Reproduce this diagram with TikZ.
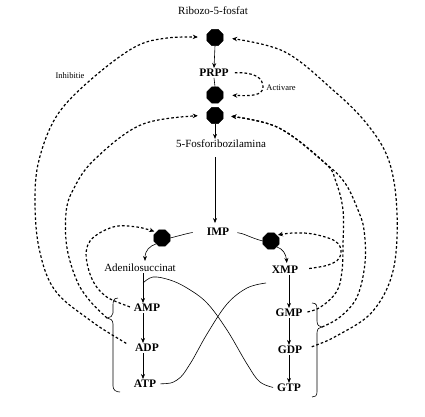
\documentclass[tikz,border=0pt]{standalone}
\usepackage{fontspec}
\setmainfont{Liberation Serif}
\usetikzlibrary{arrows.meta,shapes.geometric}
\begin{document}
\begin{tikzpicture}[x=1pt,y=-1pt,
 octa/.style={regular polygon,regular polygon sides=8,fill=black,draw=black,minimum size=17.5pt,inner sep=0pt},
 lbl/.style={font=\fontsize{11}{12}\selectfont, inner sep=1pt},
 met/.style={font=\fontsize{11.5}{12}\selectfont\bfseries, inner sep=1pt},
 small/.style={font=\fontsize{8.5}{10}\selectfont, inner sep=1pt},
 arr/.style={-{Stealth[length=5pt,width=4pt]}, line width=0.6pt},
 ln/.style={line width=0.6pt},
 dsh/.style={line width=1.2pt, dash pattern=on 2.6pt off 2.2pt, -{Stealth[length=5pt,width=4.5pt]}},
]
\useasboundingbox[fill=white] (0,0) rectangle (425,416);

% nodes
\node[lbl] (rib) at (213,11) {Ribozo-5-fosfat};
\node[octa] (o1) at (215,37.5) {};
\node[met] (prpp) at (214,73) {PRPP};
\node[octa] (o2) at (215,95) {};
\node[octa] (o3) at (215,115.5) {};
\node[lbl] (fra) at (221,144) {5-Fosforibozilamina};
\node[met] (imp) at (218,232) {IMP};
\node[octa] (oa) at (162,238) {};
\node[octa] (og) at (271,241) {};
\node[lbl] (ads) at (140,268) {Adenilosuccinat};
\node[met] (xmp) at (285,270) {XMP};
\node[met] (amp) at (147,308) {AMP};
\node[met] (adp) at (147,348) {ADP};
\node[met] (atp) at (145,384) {ATP};
\node[met] (gmp) at (289,313) {GMP};
\node[met] (gdp) at (290,350) {GDP};
\node[met] (gtp) at (289,388) {GTP};
\node[small] (inh) at (70,76) {Inhibitie};
\node[small] (act) at (281,88) {Activare};

% brace tips and free ends
\coordinate (lbt) at (107,318);
\coordinate (rbt) at (322,327);
\coordinate (cA) at (143,283);
\coordinate (cX) at (266,283);

% braces
\draw[ln] (118,298) .. controls (113,298) and (113,302) .. (113,306) -- (113,313)
  .. controls (113,316) and (110,318) .. (lbt)
  .. controls (110,318) and (113,320) .. (113,324) -- (113,386)
  .. controls (113,390) and (116,392) .. (120,392);
\draw[ln] (312,303) .. controls (317,303) and (317,306) .. (317,310) -- (317,321)
  .. controls (317,325) and (319,327) .. (rbt)
  .. controls (319,327) and (317,329) .. (317,333) -- (317,392)
  .. controls (317,396) and (315,397) .. (312,397);

% main pathway
\draw[arr] (o1.south) -- (prpp.north);
\draw[ln] (prpp.south) -- (o2.north);
\draw[arr] (o3.south) -- (o3 |- fra.north);
\draw[arr, shorten <=8pt, shorten >=4pt] (o3 |- fra.south) -- (o3 |- imp.north);

\draw[ln, shorten <=13pt] (imp.west) to[out=182,in=15] (oa.east);
\draw[arr, shorten >=2pt] (oa.south west) .. controls (150,246) and (145,250) .. ([xshift=5pt]ads.north);
\draw[ln, shorten <=7pt] (imp.east) to[out=-5,in=165] (og.west);
\draw[arr, shorten >=2pt] (og.south east) .. controls (283,249) and (286,254) .. ([xshift=2pt]xmp.north);

\draw[arr] ([xshift=3pt]ads.south) -- ([xshift=-4pt]amp.north);
\draw[arr] ([xshift=-4pt]amp.south) -- ([xshift=-4pt]adp.north);
\draw[arr] ([xshift=-4pt]adp.south) -- ([xshift=-2pt]atp.north);
\draw[arr] ([xshift=4pt]xmp.south) -- (gmp.north);
\draw[arr] (gmp.south) -- ([xshift=-1pt]gdp.north);
\draw[arr] ([xshift=-1pt]gdp.south) -- (gtp.north);

% crossing curves
\draw[ln, shorten >=3pt] plot[smooth, tension=0.6] coordinates {(cA) (153,277) (170,280) (187,288) (207,303) (227,330) (247,364) (260,382) (gtp.west)};
\draw[ln, shorten <=3pt] plot[smooth, tension=0.6] coordinates {(atp.east) (177,380) (190,364) (207,334) (227,304) (247,288) (cX)};

% activation
\draw[dsh, shorten <=5pt, shorten >=9pt] (prpp.east) .. controls (255,72) and (263,78) .. (263,87)
  .. controls (263,96) and (250,96) .. (o2.east);

% feedback inhibition (left)
\draw[dsh, shorten <=9pt, shorten >=9pt] plot[smooth, tension=0.6] coordinates {(adp.west) (87,318) (54,289) (39,248) (35,200) (39,160) (56,117) (87,83) (133,48) (167,38) (o1.west)};
\draw[dsh, shorten >=9pt] plot[smooth, tension=0.6] coordinates {(lbt) (90,301) (77,281) (67,248) (66,213) (73,190) (94,160) (143,124) (o3.west)};
\draw[dsh, shorten <=3pt, shorten >=2pt] plot[smooth, tension=0.6] coordinates {(amp.west) (100,291) (87,263) (90,241) (113,227) (137,227) (oa.north west)};

% feedback inhibition (right)
\draw[dsh, shorten <=9pt, shorten >=9pt] plot[smooth, tension=0.6] coordinates {(gdp.east) (340,334) (373,311) (393,271) (397,213) (389,161) (367,124) (333,90) (283,51) (o1.east)};
\draw[dsh, shorten >=8pt] plot[smooth, tension=0.6] coordinates {(rbt) (340,317) (357,297) (365,263) (364,230) (358,210) (345,183) (325,163) (277,127) (o3.east)};
\draw[dsh, shorten <=4pt, shorten >=8pt] plot[smooth, tension=0.6] coordinates {(gmp.east) (322,306) (337,291) (342,271) (343,245) (343,210) (336,182) (325,163) (277,127) (o3.east)};
\draw[dsh, shorten <=10pt, shorten >=1pt] plot[smooth, tension=0.6] coordinates {(xmp.east) (333,263) (341,252) (335,241) (313,234) (293,233) (og.north east)};
\end{tikzpicture}
\end{document}
